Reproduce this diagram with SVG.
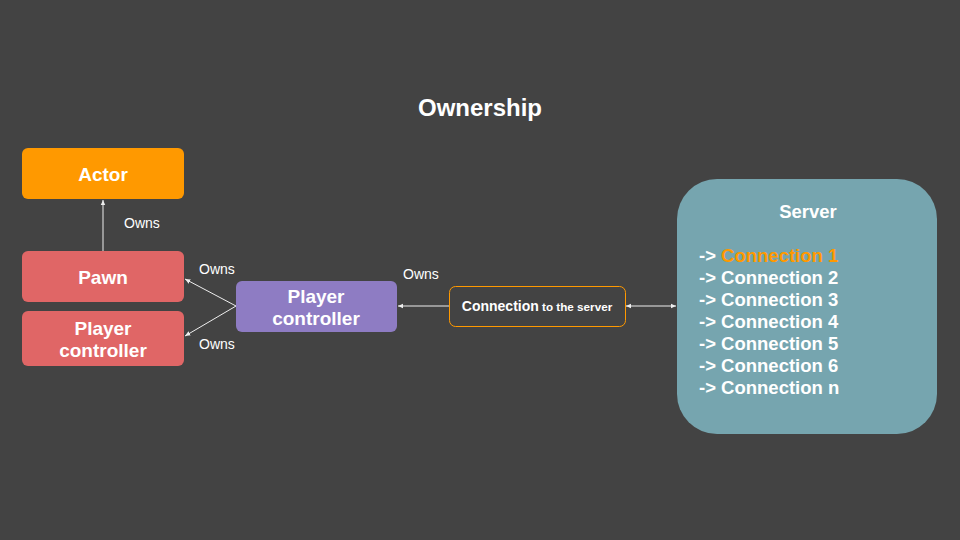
<svg xmlns="http://www.w3.org/2000/svg" width="960" height="540" viewBox="0 0 960 540">
<style>
.t{font-family:"Liberation Sans",Arial,sans-serif;fill:#fff}
.b{font-weight:bold}
.lbl{font-size:14px}
.node{font-size:19px;font-weight:bold;text-anchor:middle}
.ln{stroke:#eee;stroke-width:1;fill:none}
.srv{font-size:18.5px;font-weight:bold}
</style>
<defs>
<marker id="ah" viewBox="0 0 10 10" refX="9" refY="5" markerWidth="6" markerHeight="6" orient="auto-start-reverse">
<path d="M0,1 L9,5 L0,9 z" fill="#eee"/>
</marker>
</defs>
<rect width="960" height="540" fill="#434343"/>
<text class="t b" x="480" y="116" font-size="24" text-anchor="middle">Ownership</text>
<g id="connectors">
<line class="ln" x1="103" y1="251" x2="103" y2="200" marker-end="url(#ah)"/>
<line class="ln" x1="236" y1="306" x2="185" y2="279" marker-end="url(#ah)"/>
<line class="ln" x1="236" y1="306" x2="185" y2="336" marker-end="url(#ah)"/>
<line class="ln" x1="449" y1="306" x2="398" y2="306" marker-end="url(#ah)"/>
<line class="ln" x1="626" y1="306" x2="676" y2="306" marker-start="url(#ah)" marker-end="url(#ah)"/>
<text class="t lbl" x="124" y="228">Owns</text>
<text class="t lbl" x="199" y="274">Owns</text>
<text class="t lbl" x="199" y="349">Owns</text>
<text class="t lbl" x="403" y="279">Owns</text>
</g>
<g id="actor">
<rect x="22" y="148" width="162" height="51" rx="6" fill="#FF9900"/>
<text class="t node" x="103" y="181">Actor</text>
</g>
<g id="pawn">
<rect x="22" y="251" width="162" height="51" rx="6" fill="#E06666"/>
<text class="t node" x="103" y="284">Pawn</text>
</g>
<g id="player-controller-left">
<rect x="22" y="311" width="162" height="55" rx="6" fill="#E06666"/>
<text class="t node" x="103" y="335">Player</text>
<text class="t node" x="103" y="357">controller</text>
</g>
<g id="player-controller">
<rect x="236" y="281" width="161" height="51" rx="6" fill="#8E7CC3"/>
<text class="t node" x="316" y="303">Player</text>
<text class="t node" x="316" y="325">controller</text>
</g>
<g id="connection">
<rect x="449.5" y="286.5" width="176" height="40" rx="6" fill="#434343" stroke="#FF9900" stroke-width="1"/>
<text class="t b" x="537" y="311" text-anchor="middle"><tspan font-size="14">Connection</tspan><tspan font-size="11.7"> to the server</tspan></text>
</g>
<g id="server">
<rect x="677" y="179" width="260" height="255" rx="40" fill="#76A5AF"/>
<text class="t srv" x="808" y="218" text-anchor="middle">Server</text>
<text class="t srv" x="699" y="262">-&gt; <tspan fill="#FF9900">Connection 1</tspan></text>
<text class="t srv" x="699" y="284">-&gt; Connection 2</text>
<text class="t srv" x="699" y="306">-&gt; Connection 3</text>
<text class="t srv" x="699" y="328">-&gt; Connection 4</text>
<text class="t srv" x="699" y="350">-&gt; Connection 5</text>
<text class="t srv" x="699" y="372">-&gt; Connection 6</text>
<text class="t srv" x="699" y="394">-&gt; Connection n</text>
</g>
</svg>
